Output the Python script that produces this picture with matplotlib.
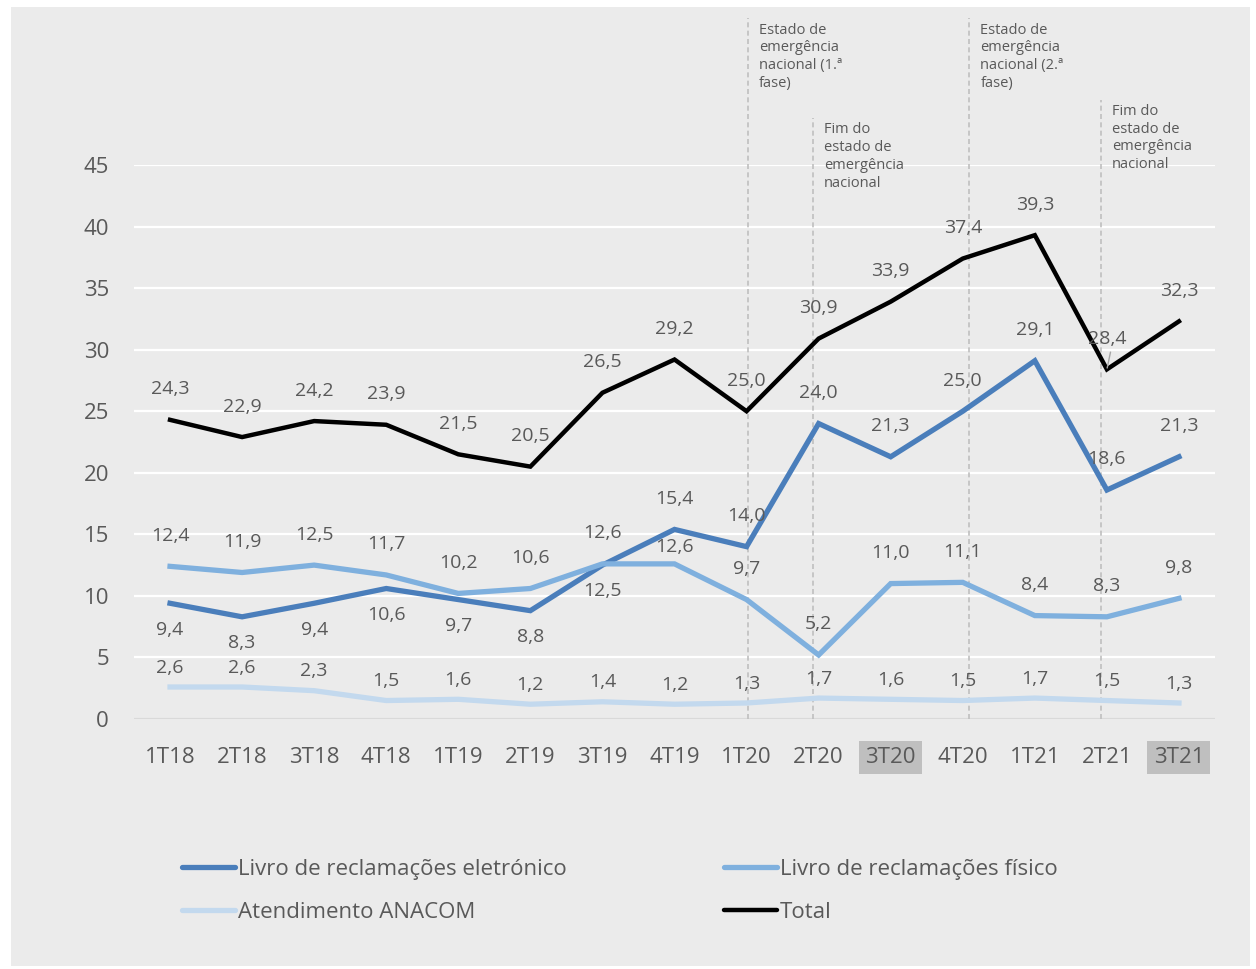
import matplotlib
matplotlib.use("Agg")
import matplotlib.pyplot as plt
from matplotlib.patches import Rectangle

plt.rcParams['font.family'] = ['Open Sans', 'DejaVu Sans']

# -------------------------------
# Data
# -------------------------------
quarters = ['1T18', '2T18', '3T18', '4T18', '1T19', '2T19', '3T19', '4T19',
            '1T20', '2T20', '3T20', '4T20', '1T21', '2T21', '3T21']
highlighted = ['3T20', '3T21']

livro_eletronico = [9.4, 8.3, 9.4, 10.6, 9.7, 8.8, 12.5, 15.4, 14.0, 24.0, 21.3, 25.0, 29.1, 18.6, 21.3]
livro_fisico = [12.4, 11.9, 12.5, 11.7, 10.2, 10.6, 12.6, 12.6, 9.7, 5.2, 11.0, 11.1, 8.4, 8.3, 9.8]
atendimento = [2.6, 2.6, 2.3, 1.5, 1.6, 1.2, 1.4, 1.2, 1.3, 1.7, 1.6, 1.5, 1.7, 1.5, 1.3]
total = [24.3, 22.9, 24.2, 23.9, 21.5, 20.5, 26.5, 29.2, 25.0, 30.9, 33.9, 37.4, 39.3, 28.4, 32.3]

events = [
    'Estado de\nemergência\nnacional (1.ª\nfase)',
    'Fim do\nestado de\nemergência\nnacional',
    'Estado de\nemergência\nnacional (2.ª\nfase)',
    'Fim do\nestado de\nemergência\nnacional',
]
event_x = [8.02, 8.92, 11.09, 12.92]
event_top = [56.9, 48.8, 56.9, 50.3]

TEXT = '#595959'
C_ELE = '#4a7ebb'
C_FIS = '#7fb0de'
C_ATE = '#c3d9ee'
C_TOT = '#000000'

# label offsets in points (positive = above the point)
off_total = [22] * 15
off_ele = [-19] * 7 + [22] * 8
off_fis = [22] * 15
off_fis[7] = 12
off_ate = [14] * 15

# -------------------------------
# Figure
# -------------------------------
fig = plt.figure(figsize=(12.56, 9.69), dpi=100)
fig.patch.set_facecolor('white')
fig.patches.append(Rectangle((11 / 1256, 3 / 969), 1239 / 1256, 959 / 969,
                             transform=fig.transFigure, facecolor='#ebebeb',
                             edgecolor='none', zorder=-10))

ax = fig.add_axes([134 / 1256, 1 - 719 / 969, (1215 - 134) / 1256, (719 - 165) / 969])
ax.set_facecolor('none')
x = list(range(len(quarters)))

ax.set_xlim(-0.5, 14.5)
ax.set_ylim(0, 45)
ax.set_yticks(range(0, 50, 5))
for v in range(5, 50, 5):
    ax.axhline(v, color='white', lw=1.6, zorder=0)
ax.axhline(0, color='#d9d9d9', lw=1.6, zorder=0)
for s in ax.spines.values():
    s.set_visible(False)
ax.tick_params(length=0, labelsize=16, labelcolor=TEXT)
ax.tick_params(axis='y', pad=18)
ax.tick_params(axis='x', pad=20)
ax.set_xticks(x)
ax.set_xticklabels(quarters)
for lab in ax.get_xticklabels():
    if lab.get_text() in highlighted:
        lab.set_bbox(dict(facecolor='#bfbfbf', edgecolor='none', pad=4.5))

# event markers
for ex, top, txt in zip(event_x, event_top, events):
    ax.plot([ex, ex], [0, top], color='#bfbfbf', lw=1.2, ls=(0, (3, 2)),
            clip_on=False, zorder=1)
    ax.annotate(txt, (ex, top), xytext=(8, -3), textcoords='offset points',
                ha='left', va='top', fontsize=10.5, color=TEXT,
                linespacing=1.25, annotation_clip=False)

l_ele, = ax.plot(x, livro_eletronico, color=C_ELE, lw=3.8, solid_joinstyle='miter', zorder=3,
                 label='Livro de reclamações eletrónico')
l_fis, = ax.plot(x, livro_fisico, color=C_FIS, lw=3.8, solid_joinstyle='miter', zorder=3,
                 label='Livro de reclamações físico')
l_ate, = ax.plot(x, atendimento, color=C_ATE, lw=3.8, solid_joinstyle='miter', zorder=3,
                 label='Atendimento ANACOM')
l_tot, = ax.plot(x, total, color=C_TOT, lw=3.2, solid_joinstyle='miter', zorder=4,
                 label='Total')


def fmt(v):
    return f'{v:.1f}'.replace('.', ',')


def label_series(vals, offsets):
    for i, v in enumerate(vals):
        ax.annotate(fmt(v), (i, v), xytext=(0, offsets[i]), textcoords='offset points',
                    ha='center', va='center', fontsize=14, color=TEXT, zorder=5)


label_series(total, off_total)
label_series(livro_eletronico, off_ele)
label_series(livro_fisico, off_fis)
label_series(atendimento, off_ate)

# small leader line for the 2T21 total label
ax.annotate('', (13, total[13]), xytext=(13.05, total[13] + 1.4),
            arrowprops=dict(arrowstyle='-', color='#a6a6a6', lw=1, shrinkA=0, shrinkB=1),
            zorder=5)

leg = fig.legend([l_ele, l_ate, l_fis, l_tot],
                 [l_ele.get_label(), l_ate.get_label(), l_fis.get_label(), l_tot.get_label()],
                 ncol=2, loc='upper left', bbox_to_anchor=(182 / 1256, 1 - 859 / 969),
                 frameon=False, fontsize=16, labelcolor=TEXT, handlelength=2.4,
                 handletextpad=0.1, columnspacing=7.1, labelspacing=1.0,
                 borderpad=0, borderaxespad=0)
for h in leg.legend_handles:
    h.set_solid_capstyle('round')

fig.savefig('out.png', dpi=100, facecolor=fig.get_facecolor())
